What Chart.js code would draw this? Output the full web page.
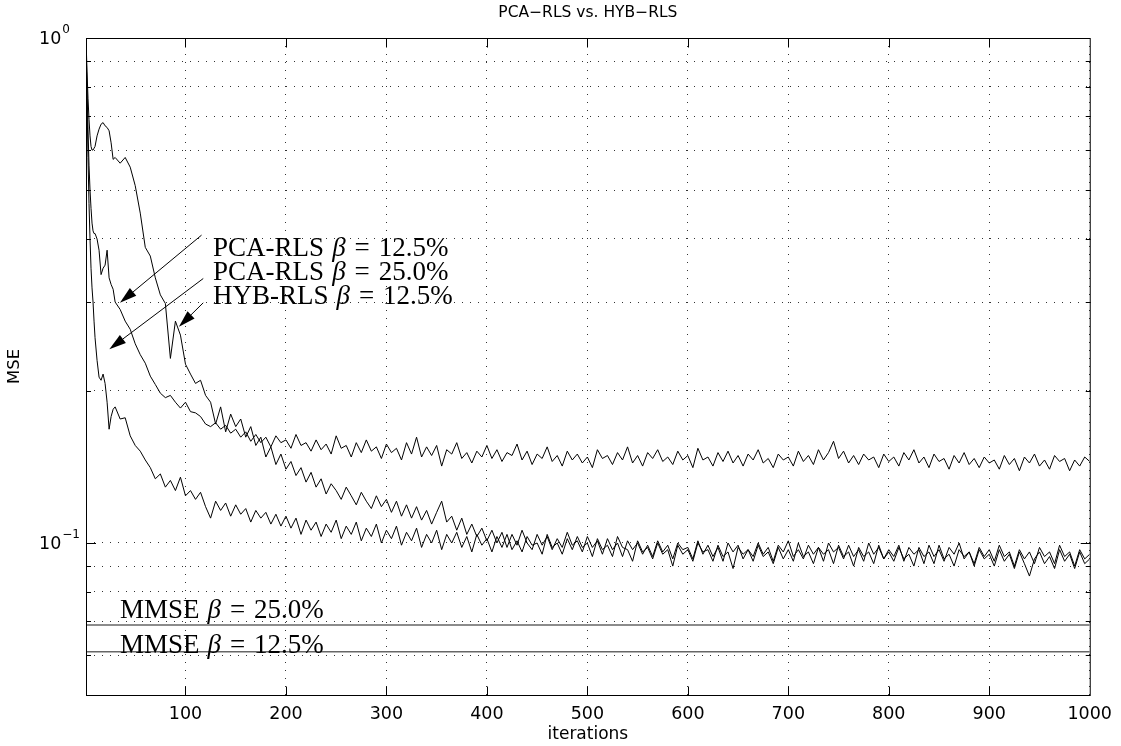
<!DOCTYPE html>
<html><head><meta charset="utf-8">
<script src="https://cdn.jsdelivr.net/npm/chart.js@4.4.1/dist/chart.umd.min.js"></script>
<style>html,body{margin:0;padding:0;background:#fff}canvas{display:block}</style>
</head><body>
<canvas id="c" width="1121" height="746"></canvas>
<script>
const iterations = [1,2,3,4,5,6,7,8,9,10,12,14,16,18,20,22,24,26,28,30,
35,40,45,50,55,60,65,70,75,80,
85,90,95,100,105,110,115,120,125,130,
135,140,145,150,155,160,165,170,175,180,
185,190,195,200,205,210,215,220,225,230,
235,240,245,250,255,260,265,270,275,280,
285,290,295,300,305,310,315,320,325,330,
335,340,345,350,355,360,365,370,375,380,
385,390,395,400,405,410,415,420,425,430,
435,440,445,450,455,460,465,470,475,480,
485,490,495,500,505,510,515,520,525,530,
535,540,545,550,555,560,565,570,575,580,
585,590,595,600,605,610,615,620,625,630,
635,640,645,650,655,660,665,670,675,680,
685,690,695,700,705,710,715,720,725,730,
735,740,745,750,755,760,765,770,775,780,
785,790,795,800,805,810,815,820,825,830,
835,840,845,850,855,860,865,870,875,880,
885,890,895,900,905,910,915,920,925,930,
935,940,945,950,955,960,965,970,975,980,
985,990,995,1000];

// PCA-RLS beta = 12.5%
const pcaRls125 = [1.0,.80,.66,.56,.50,.46,.43,.415,.41,.41,
.40,.38,.34,.35,.355,.38,.335,.325,.318,.30,
.290,.275,.265,.248,.236,.227,.214,.206,.198,.194,
.196,.190,.185,.190,.182,.181,.178,.172,.170,.173,
.168,.171,.165,.168,.162,.166,.159,.164,.158,.162,
.155,.163,.158,.160,.154,.164,.156,.158,.152,.160,
.153,.157,.150,.163,.154,.156,.148,.158,.151,.160,
.152,.155,.147,.157,.151,.154,.146,.158,.150,.162,
.148,.155,.149,.156,.142,.153,.150,.158,.147,.151,
.144,.152,.148,.156,.147,.153,.145,.151,.149,.157,
.146,.152,.143,.150,.147,.155,.145,.149,.142,.152,
.146,.150,.144,.148,.141,.153,.147,.149,.143,.151,
.146,.155,.144,.149,.142,.151,.147,.153,.145,.148,
.143,.152,.146,.149,.141,.154,.146,.148,.142,.151,
.145,.152,.144,.149,.142,.150,.146,.153,.144,.147,
.141,.150,.146,.148,.142,.152,.145,.149,.143,.153,
.146,.151,.159,.147,.152,.144,.149,.143,.150,.146,
.148,.141,.150,.145,.148,.142,.151,.146,.153,.144,
.148,.141,.150,.145,.147,.140,.149,.144,.151,.143,
.147,.141,.148,.144,.146,.140,.149,.143,.147,.139,
.148,.144,.150,.142,.146,.140,.149,.145,.147,.139,
.146,.142,.148,.145];

// HYB-RLS beta = 12.5%
const hybRls125 = [1.0,.86,.76,.69,.64,.61,.60,.60,.605,.61,
.64,.66,.675,.68,.67,.665,.655,.62,.575,.58,
.565,.580,.555,.510,.450,.385,.370,.335,.310,.298,
.232,.275,.258,.226,.216,.207,.210,.196,.190,.172,
.186,.166,.180,.170,.176,.162,.170,.156,.162,.148,
.155,.143,.150,.140,.145,.136,.141,.132,.138,.129,
.134,.125,.131,.127,.122,.129,.124,.119,.126,.121,
.117,.124,.118,.122,.115,.121,.113,.119,.112,.118,
.111,.116,.109,.115,.121,.110,.113,.106,.112,.104,
.109,.103,.107,.101,.106,.100,.105,.098,.104,.099,
.106,.100,.097,.104,.099,.103,.097,.102,.098,.105,
.099,.101,.096,.103,.098,.101,.095,.102,.097,.100,
.094,.101,.097,.100,.095,.099,.094,.101,.096,.099,
.093,.100,.097,.098,.093,.101,.095,.099,.094,.098,
.092,.100,.096,.099,.093,.097,.094,.100,.095,.098,
.092,.099,.096,.101,.094,.097,.093,.099,.095,.098,
.092,.100,.096,.098,.093,.099,.094,.097,.092,.100,
.095,.098,.093,.097,.094,.099,.092,.098,.095,.097,
.091,.099,.094,.097,.092,.098,.095,.100,.093,.096,
.091,.098,.094,.097,.092,.099,.094,.096,.090,.097,
.093,.096,.091,.098,.094,.096,.091,.099,.094,.096,
.090,.097,.093,.095];

// PCA-RLS beta = 25.0%
const pcaRls250 = [1.0,.75,.58,.47,.40,.35,.32,.30,.275,.255,
.23,.213,.21,.216,.207,.19,.168,.178,.184,.186,
.176,.177,.163,.156,.152,.146,.141,.134,.137,.129,
.133,.127,.135,.124,.127,.122,.126,.118,.112,.121,
.116,.120,.113,.119,.114,.117,.110,.116,.112,.115,
.109,.114,.108,.113,.107,.112,.104,.111,.106,.110,
.103,.109,.105,.111,.102,.108,.104,.110,.101,.107,
.103,.109,.100,.106,.102,.108,.099,.105,.101,.107,
.098,.104,.100,.106,.097,.104,.100,.105,.098,.103,
.096,.104,.099,.102,.096,.103,.098,.104,.097,.101,
.096,.103,.099,.100,.095,.104,.098,.100,.095,.102,
.097,.103,.098,.100,.094,.102,.097,.099,.094,.103,
.098,.097,.092,.101,.096,.098,.093,.100,.095,.097,
.090,.099,.095,.097,.092,.100,.096,.097,.092,.099,
.094,.096,.089,.098,.095,.097,.092,.099,.094,.096,
.091,.098,.093,.097,.092,.100,.094,.096,.091,.098,
.095,.097,.091,.099,.094,.096,.090,.098,.094,.096,
.091,.099,.093,.096,.092,.098,.093,.095,.090,.098,
.094,.096,.091,.099,.093,.095,.090,.097,.094,.096,
.090,.097,.093,.095,.090,.097,.092,.095,.089,.096,
.091,.086,.093,.096,.091,.094,.089,.097,.092,.095,
.089,.096,.091,.093];

const mmse250 = 0.0688;
const mmse125 = 0.0609;
const xRange = [1, 1000];
const yRange = [0.05, 1];
const xTickValues = [100,200,300,400,500,600,700,800,900,1000];
const yGridValues = [0.06,0.07,0.08,0.09,0.1,0.2,0.3,0.4,0.5,0.6,0.7,0.8,0.9];
const yTickLabels = [{value:1, base:'10', exp:'0'}, {value:0.1, base:'10', exp:'\u22121'}];
const titleText = 'PCA\u2212RLS vs. HYB\u2212RLS';
const xLabel = 'iterations';
const yLabel = 'MSE';
// annotations in data units [iteration, MSE]
const arrowNotes = [
  {label:'PCA-RLS', beta:'12.5%', text:[127.4,0.370], from:[116,0.407], to:[34.8,0.299]},
  {label:'PCA-RLS', beta:'25.0%', text:[127.4,0.332], from:[117.7,0.334], to:[24.2,0.242]},
  {label:'HYB-RLS', beta:'12.5%', text:[127.4,0.298], from:[117.7,0.299], to:[93.5,0.268]}
];
const mmseNotes = [
  {label:'MMSE', beta:'25.0%', at:[34.8,0.0710]},
  {label:'MMSE', beta:'12.5%', at:[34.8,0.0606]}
];

const SANS = '"DejaVu Sans", sans-serif';
const SERIF = '"Liberation Serif", serif';

// parts: [text, font] or a number (gap in em)
function drawRich(ctx, x, y, parts, size) {
  let cx = x;
  for (const p of parts) {
    if (typeof p === 'number') { cx += p * size; continue; }
    ctx.font = p[1];
    ctx.fillText(p[0], cx, y);
    cx += ctx.measureText(p[0]).width;
  }
}
function noteParts(label, beta, size) {
  const r = size + 'px ' + SERIF, it = 'italic ' + size + 'px ' + SERIF;
  return [[label, r], 0.3, ['\u03B2', it], 0.33, ['=', r], 0.33, [beta, r]];
}

const overlay = {
  id: 'overlay',
  afterDraw(chart) {
    const {ctx, chartArea: a, scales: {x, y}} = chart;
    ctx.save();
    ctx.strokeStyle = '#000';
    ctx.fillStyle = '#000';
    ctx.lineWidth = 1;
    // box
    ctx.strokeRect(a.left + 0.5, a.top + 0.5, a.right - a.left, a.bottom - a.top);
    // ticks
    ctx.beginPath();
    for (const v of xTickValues) {
      if (v >= xRange[1]) continue;
      const px = Math.round(x.getPixelForValue(v)) + 0.5;
      ctx.moveTo(px, a.bottom + 0.5); ctx.lineTo(px, a.bottom - 8.5);
      ctx.moveTo(px, a.top + 0.5); ctx.lineTo(px, a.top + 9.5);
    }
    for (const v of yGridValues) {
      const py = Math.round(y.getPixelForValue(v)) + 0.5;
      const len = (v === 0.1) ? 10 : 5;
      ctx.moveTo(a.left, py); ctx.lineTo(a.left + len, py);
      ctx.moveTo(a.right + 1, py); ctx.lineTo(a.right + 1 - len, py);
    }
    ctx.stroke();
    // y tick labels
    ctx.textBaseline = 'middle';
    ctx.textAlign = 'left';
    for (const t of yTickLabels) {
      const py = y.getPixelForValue(t.value);
      ctx.font = '17.5px ' + SANS;
      ctx.fillText(t.base, 39, py + 1);
      const w = ctx.measureText(t.base).width;
      ctx.font = '12px ' + SANS;
      ctx.fillText(t.exp, 39 + w + 1, py - 8);
    }
    // title and axis labels
    ctx.textAlign = 'center';
    ctx.font = '15.5px ' + SANS;
    ctx.fillText(titleText, (a.left + a.right) / 2, 13);
    ctx.font = '17px ' + SANS;
    ctx.fillText(xLabel, (a.left + a.right) / 2, 735);
    ctx.save();
    ctx.translate(15, (a.top + a.bottom) / 2);
    ctx.rotate(-Math.PI / 2);
    ctx.font = '16.5px ' + SANS;
    ctx.fillText(yLabel, 0, 0);
    ctx.restore();
    // arrow annotations
    ctx.textAlign = 'left';
    ctx.textBaseline = 'alphabetic';
    const fs = 27;
    for (const n of arrowNotes) {
      const x0 = x.getPixelForValue(n.from[0]), y0 = y.getPixelForValue(n.from[1]);
      const x1 = x.getPixelForValue(n.to[0]), y1 = y.getPixelForValue(n.to[1]);
      const ang = Math.atan2(y1 - y0, x1 - x0);
      const hl = 17, hw = 5;
      const bx = x1 - hl * Math.cos(ang), by = y1 - hl * Math.sin(ang);
      ctx.beginPath(); ctx.moveTo(x0, y0); ctx.lineTo(bx, by); ctx.stroke();
      ctx.beginPath();
      ctx.moveTo(x1, y1);
      ctx.lineTo(bx + hw * Math.sin(ang), by - hw * Math.cos(ang));
      ctx.lineTo(bx - hw * Math.sin(ang), by + hw * Math.cos(ang));
      ctx.closePath(); ctx.fill();
      drawRich(ctx, x.getPixelForValue(n.text[0]), y.getPixelForValue(n.text[1]), noteParts(n.label, n.beta, fs), fs);
    }
    for (const n of mmseNotes) {
      drawRich(ctx, x.getPixelForValue(n.at[0]), y.getPixelForValue(n.at[1]), noteParts(n.label, n.beta, fs), fs);
    }
    ctx.restore();
  }
};

const series = [pcaRls125, hybRls125, pcaRls250];
const datasets = series.map(vals => ({
  data: iterations.map((it, i) => ({x: it, y: vals[i]})),
  borderColor: '#000', borderWidth: 1, pointRadius: 0, tension: 0, fill: false
}));
for (const m of [mmse250, mmse125]) {
  datasets.push({data: [{x: xRange[0], y: m}, {x: xRange[1], y: m}],
    borderColor: '#666', borderWidth: 1.5, pointRadius: 0, fill: false});
}

new Chart(document.getElementById('c'), {
  type: 'line',
  data: {datasets},
  options: {
    responsive: false, animation: false, devicePixelRatio: 1,
    layout: {padding: {left: 0, right: 31, top: 38, bottom: 0}},
    plugins: {legend: {display: false}, tooltip: {enabled: false}, title: {display: false}},
    scales: {
      x: {
        type: 'linear', min: xRange[0], max: xRange[1],
        afterBuildTicks: s => { s.ticks = xTickValues.map(v => ({value: v})); },
        afterFit: s => { s.height = 51; },
        grid: {color: '#333', lineWidth: 1, drawTicks: false},
        border: {display: false, dash: [1, 7]},
        ticks: {font: {family: 'DejaVu Sans', size: 17.5}, color: '#000', padding: 9,
                maxRotation: 0, autoSkip: false, callback: v => String(v)}
      },
      y: {
        type: 'logarithmic', min: yRange[0], max: yRange[1],
        afterBuildTicks: s => { s.ticks = yGridValues.map(v => ({value: v})); },
        afterFit: s => { s.width = 86; },
        grid: {color: '#333', lineWidth: 1, drawTicks: false},
        border: {display: false, dash: [1, 7]},
        ticks: {display: false}
      }
    }
  },
  plugins: [overlay]
});
</script>
</body></html>
